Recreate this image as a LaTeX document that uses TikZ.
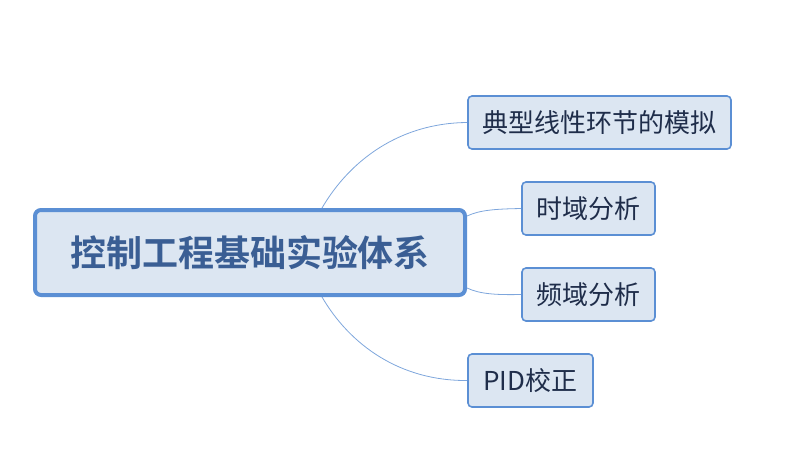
\documentclass[tikz,border=0pt]{standalone}
\usepackage{fontspec}
\newfontfamily\cjk{Noto Sans CJK SC}
\newfontfamily\cjkb{Noto Sans CJK SC Bold}
\definecolor{boxfill}{HTML}{DCE6F2}
\definecolor{boxline}{HTML}{5B8FD4}
\definecolor{mainText}{HTML}{3A5E94}
\definecolor{childText}{HTML}{1F2D4A}
\definecolor{linkline}{HTML}{7EA6DC}
\begin{document}
\begin{tikzpicture}[x=1pt,y=-1pt,
  mainbox/.style={draw=boxline,line width=4pt,fill=boxfill,rounded corners=6pt,
    minimum width=430pt,minimum height=85pt,inner sep=0pt,
    font=\cjkb\fontsize{36}{40}\selectfont,text=mainText},
  childbox/.style={draw=boxline,line width=1.6pt,fill=boxfill,rounded corners=4pt,
    minimum height=53pt,inner sep=0pt,
    font=\cjk\fontsize{26}{30}\selectfont,text=childText},
  link/.style={draw=linkline,line width=0.8pt}]
\useasboundingbox (0,0) rectangle (806,467);
\node[mainbox] (main) at (250,252.5) {控制工程基础实验体系};
\node[childbox,minimum width=263pt] (c1) at (599.5,122.5) {典型线性环节的模拟};
\node[childbox,minimum width=133pt] (c2) at (588.5,208.5) {时域分析};
\node[childbox,minimum width=133pt] (c3) at (588.5,294.5) {频域分析};
\node[childbox,minimum width=125pt] (c4) at (530.5,380.5) {PID校正};
\coordinate (s1) at (322,208);
\coordinate (s2) at (467,216);
\coordinate (s3) at (467,288);
\coordinate (s4) at (322,297);
\draw[link] (s1) .. controls (350,160) and (400,123) .. (c1.west);
\draw[link] (s2) .. controls (480,210) and (495,209) .. (c2.west);
\draw[link] (s3) .. controls (480,294) and (495,295) .. (c3.west);
\draw[link] (s4) .. controls (350,345) and (400,381) .. (c4.west);
\end{tikzpicture}
\end{document}
